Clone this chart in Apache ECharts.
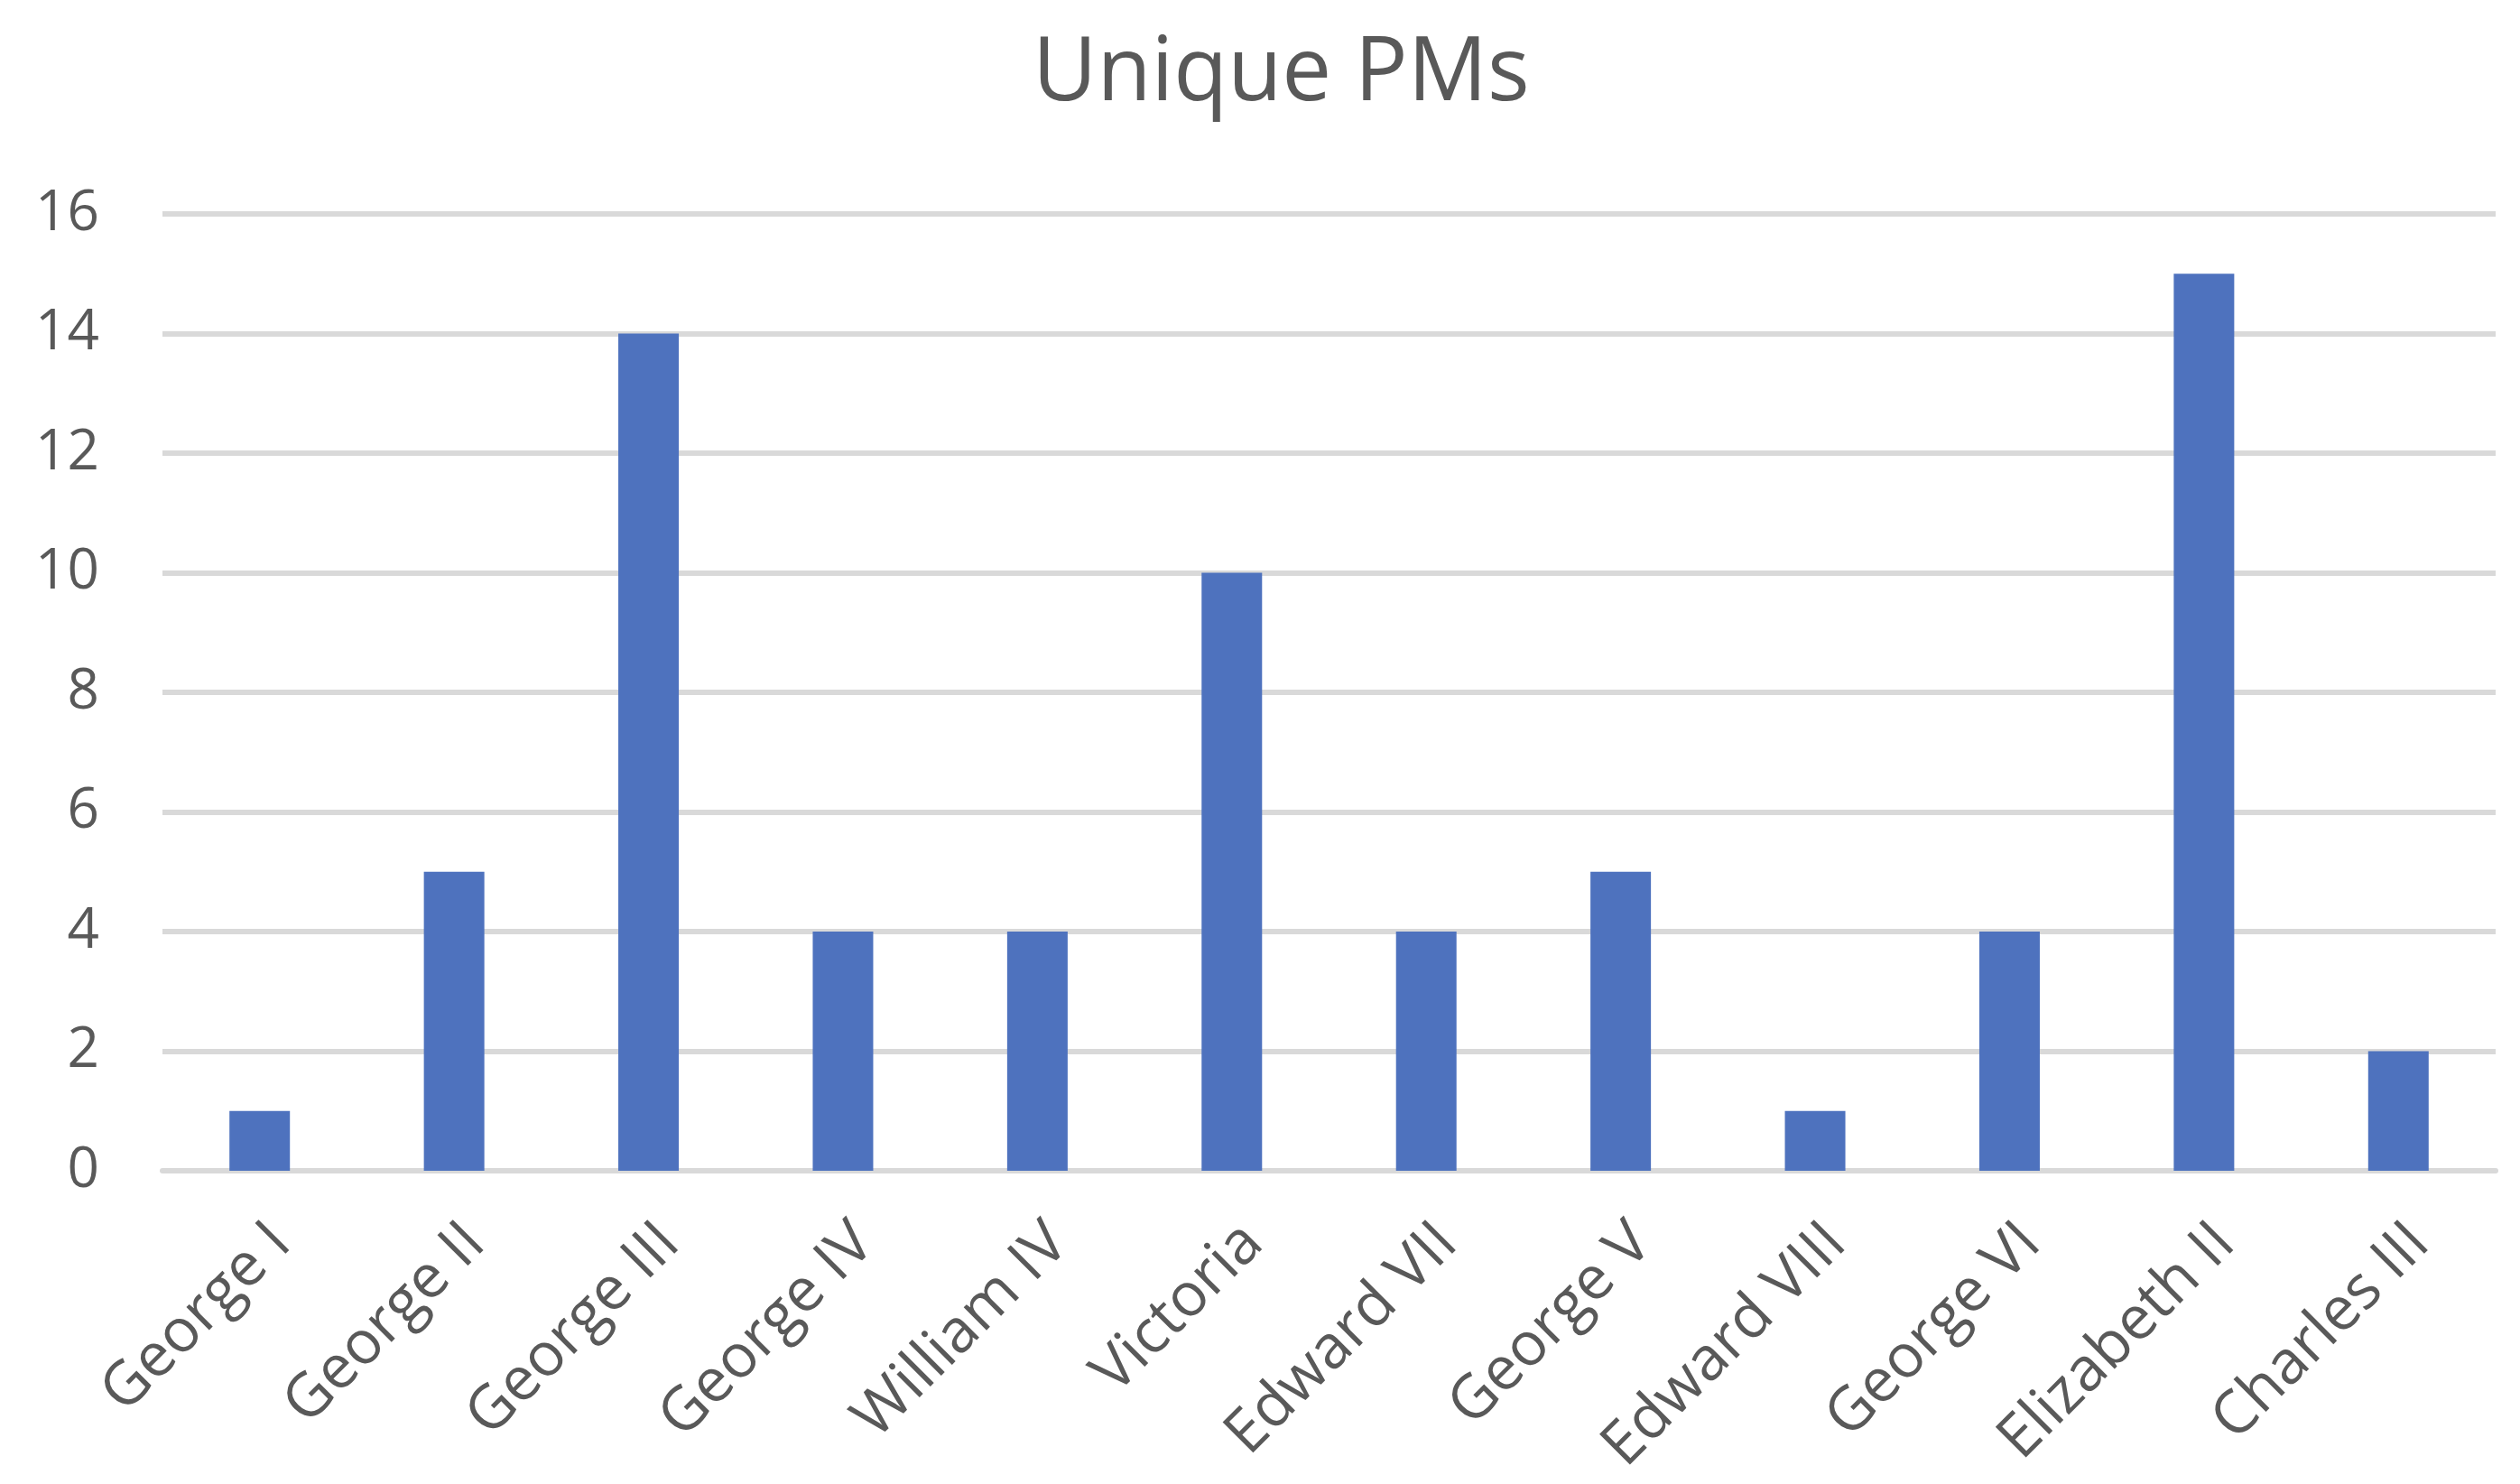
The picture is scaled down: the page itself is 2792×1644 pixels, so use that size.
<!DOCTYPE html>
<html>
<head>
<meta charset="utf-8">
<script src="https://cdn.jsdelivr.net/npm/echarts@6/dist/echarts.min.js"></script>
<style>
html,body{margin:0;padding:0;background:#fff;}
#chart{width:2792px;height:1644px;}
</style>
</head>
<body>
<div id="chart"></div>
<script>
const titleText = "Unique PMs";
const categories = ["George I","George II","George III","George IV","William IV","Victoria","Edward VII","George V","Edward VIII","George VI","Elizabeth II","Charles III"];
const values = [1,5,14,4,4,10,4,5,1,4,15,2];
const yTicks = [0,2,4,6,8,10,12,14,16];

const chart = echarts.init(document.getElementById('chart'));
const font = "'Open Sans', sans-serif";
chart.setOption({
  animation: false,
  backgroundColor: '#ffffff',
  title: {
    text: titleText,
    left: 1139,
    top: 29,
    textStyle: {fontFamily: font, fontSize: 98, fontWeight: 'normal', color: '#595959'}
  },
  grid: {left: 180, right: 27, top: 237, bottom: 347, containLabel: false, outerBoundsMode: 'none'},
  xAxis: {
    type: 'category',
    data: categories,
    axisLine: {show: true, lineStyle: {color: '#D9D9D9', width: 6}},
    axisTick: {show: false},
    axisLabel: {rotate: 45, margin: 46, verticalAlign: 'top', lineHeight: 67,
      fontFamily: font, fontSize: 67, color: '#595959', interval: 0}
  },
  yAxis: {
    type: 'value',
    min: yTicks[0],
    max: yTicks[yTicks.length-1],
    interval: yTicks[1]-yTicks[0],
    axisLine: {show: false},
    axisTick: {show: false},
    splitLine: {lineStyle: {color: '#D9D9D9', width: 6}},
    axisLabel: {margin: 70, fontFamily: font, fontSize: 62, color: '#595959'}
  },
  series: [{
    type: 'bar',
    data: values,
    barWidth: 67,
    itemStyle: {color: '#4E72BE'}
  }]
});
</script>
</body>
</html>
